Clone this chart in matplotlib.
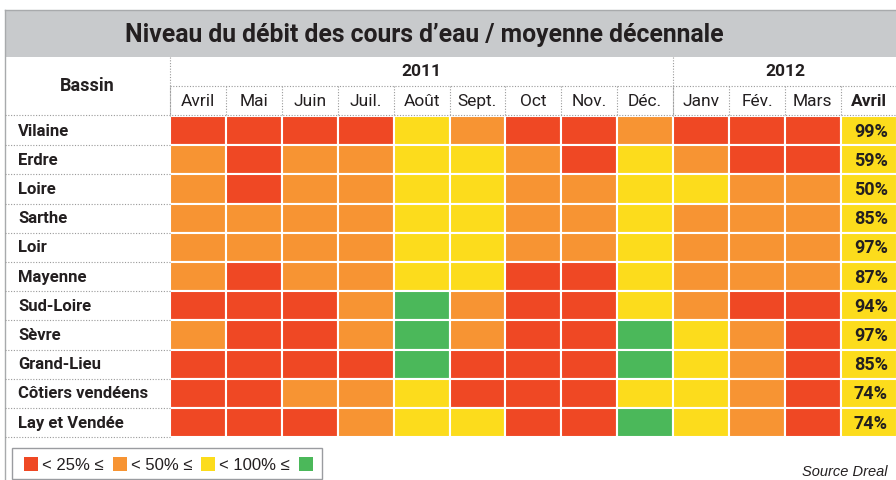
import matplotlib.pyplot as plt
from matplotlib.patches import Rectangle

# Roboto is the narrowest of the installed families
plt.rcParams.update({"font.family": ['Roboto', 'DejaVu Sans']})

# Data
title = "Niveau du débit des cours d\u2019eau / moyenne décennale"
bassins = ["Vilaine", "Erdre", "Loire", "Sarthe", "Loir", "Mayenne", "Sud-Loire",
           "Sèvre", "Grand-Lieu", "Côtiers vendéens", "Lay et Vendée"]
mois = ["Avril", "Mai", "Juin", "Juil.", "Août", "Sept.", "Oct", "Nov.", "Déc.",
        "Janv", "Fév.", "Mars"]
dernier_mois = "Avril"
annees = ["2011", "2012"]
mois_par_annee = [9, 4]

# 0: < 25 %, 1: 25-50 %, 2: 50-100 %, 3: >= 100 %
niveaux = [
    [0, 0, 0, 0, 2, 1, 0, 0, 1, 0, 0, 0],   # Vilaine
    [1, 0, 1, 1, 2, 2, 1, 0, 2, 1, 0, 0],   # Erdre
    [1, 0, 1, 1, 2, 2, 1, 1, 2, 2, 1, 1],   # Loire
    [1, 1, 1, 1, 2, 2, 1, 1, 2, 1, 1, 1],   # Sarthe
    [1, 1, 1, 1, 2, 2, 1, 1, 2, 1, 1, 1],   # Loir
    [1, 0, 1, 1, 2, 2, 0, 0, 2, 1, 1, 1],   # Mayenne
    [0, 0, 0, 1, 3, 1, 0, 0, 2, 1, 0, 0],   # Sud-Loire
    [1, 0, 0, 1, 3, 1, 0, 0, 3, 2, 1, 0],   # Sèvre
    [0, 0, 0, 0, 3, 0, 0, 0, 3, 2, 1, 0],   # Grand-Lieu
    [0, 0, 1, 1, 2, 0, 0, 0, 2, 2, 1, 0],   # Côtiers vendéens
    [0, 0, 0, 1, 2, 2, 0, 0, 3, 2, 1, 0],   # Lay et Vendée
]
avril_2012 = [99, 59, 50, 85, 97, 87, 94, 97, 85, 74, 74]
seuils = [25, 50, 100]
legende = ["< 25% \u2264", "< 50% \u2264", "< 100% \u2264", ""]

# Style
couleurs = ["#EF4824", "#F79433", "#FCDC1C", "#4BB85A"]
texte = "#231F20"
pointille = "#9A9A9A"
dots = (0, (1, 1.5))

W, H = 896, 480
x0, cw = 170, 55.9          # left edge of the cells, column width (px)
y0, rh = 116, 29.2          # top of the cells, row height (px)

fig = plt.figure(figsize=(W / 100, H / 100), dpi=100)
ax = fig.add_axes([0, 0, 1, 1])
ax.set_xlim(0, W)
ax.set_ylim(H, 0)
ax.axis('off')

# Title band
ax.add_patch(Rectangle((5, 10), W, 47, facecolor="#C8CACC", edgecolor="none"))
ax.plot([5, W], [10, 10], color="#A8AAAC", lw=1)
ax.plot([5, 5], [10, H], color="#A8AAAC", lw=1)
ax.text(424, 35, title, ha='center', va='center', fontsize=17.8,
        color=texte, fontweight='bold')

# Header
ax.text(87, 86, "Bassin", ha='center', va='center', fontsize=13,
        fontweight='bold', color=texte)
ax.plot([x0, W], [86, 86], color=pointille, lw=0.8, ls=dots)
ax.plot([5, W], [y0 - 1, y0 - 1], color=pointille, lw=0.8, ls=dots)

debut = 0
for annee, n in zip(annees, mois_par_annee):
    xa = x0 + debut * cw
    ax.plot([xa, xa], [57, y0], color=pointille, lw=0.8, ls=dots)
    ax.text(xa + n * cw / 2, 71, annee, ha='center', va='center',
            fontsize=12.5, fontweight='bold', color=texte)
    debut += n

colonnes = mois + [dernier_mois]
for j, m in enumerate(colonnes):
    xc = x0 + j * cw
    ax.plot([xc, xc], [86, y0], color=pointille, lw=0.8, ls=dots)
    ax.text(xc + cw / 2, 101.5, m, ha='center', va='center', fontsize=12.5,
            color=texte, fontweight='bold' if j == len(mois) else 'normal')

# Cells
for i, nom in enumerate(bassins):
    yr = y0 + i * rh
    ax.text(18, yr + rh / 2 + 0.5, nom, ha='left', va='center', fontsize=12,
            fontweight='bold', color=texte)
    ax.plot([5, x0], [yr + rh, yr + rh], color=pointille, lw=0.8, ls=dots)
    for j, k in enumerate(niveaux[i]):
        ax.add_patch(Rectangle((x0 + j * cw, yr), cw, rh, facecolor=couleurs[k],
                               edgecolor='white', lw=1.5))
    v = avril_2012[i]
    k = sum(v >= s for s in seuils)
    ax.add_patch(Rectangle((x0 + len(mois) * cw, yr), cw, rh,
                           facecolor=couleurs[k], edgecolor='white', lw=1.5))
    ax.text(888, yr + rh / 2 + 1, f"{v}%", ha='right', va='center',
            fontsize=13, fontweight='bold', color=texte)

# Legend: each swatch follows the end of the previous label
ax.add_patch(Rectangle((12, 448), 310, 31, facecolor='white',
                       edgecolor="#9A9CA0", lw=1))
renderer = fig.canvas.get_renderer()
lx = 24
for c, lab in zip(couleurs, legende):
    ax.add_patch(Rectangle((lx, 457), 14, 14, facecolor=c, edgecolor='none'))
    if lab:
        t = ax.text(lx + 18, 465, lab, ha='left', va='center', fontsize=12,
                    color=texte, family=['Liberation Sans', 'DejaVu Sans'])
        bb = t.get_window_extent(renderer)
        lx = bb.x1 + 9

ax.text(888, 472, "Source Dreal", ha='right', va='center', fontsize=10.5,
        style='italic', color=texte, family=['Liberation Sans', 'DejaVu Sans'])

fig.savefig("out.png", dpi=100)
